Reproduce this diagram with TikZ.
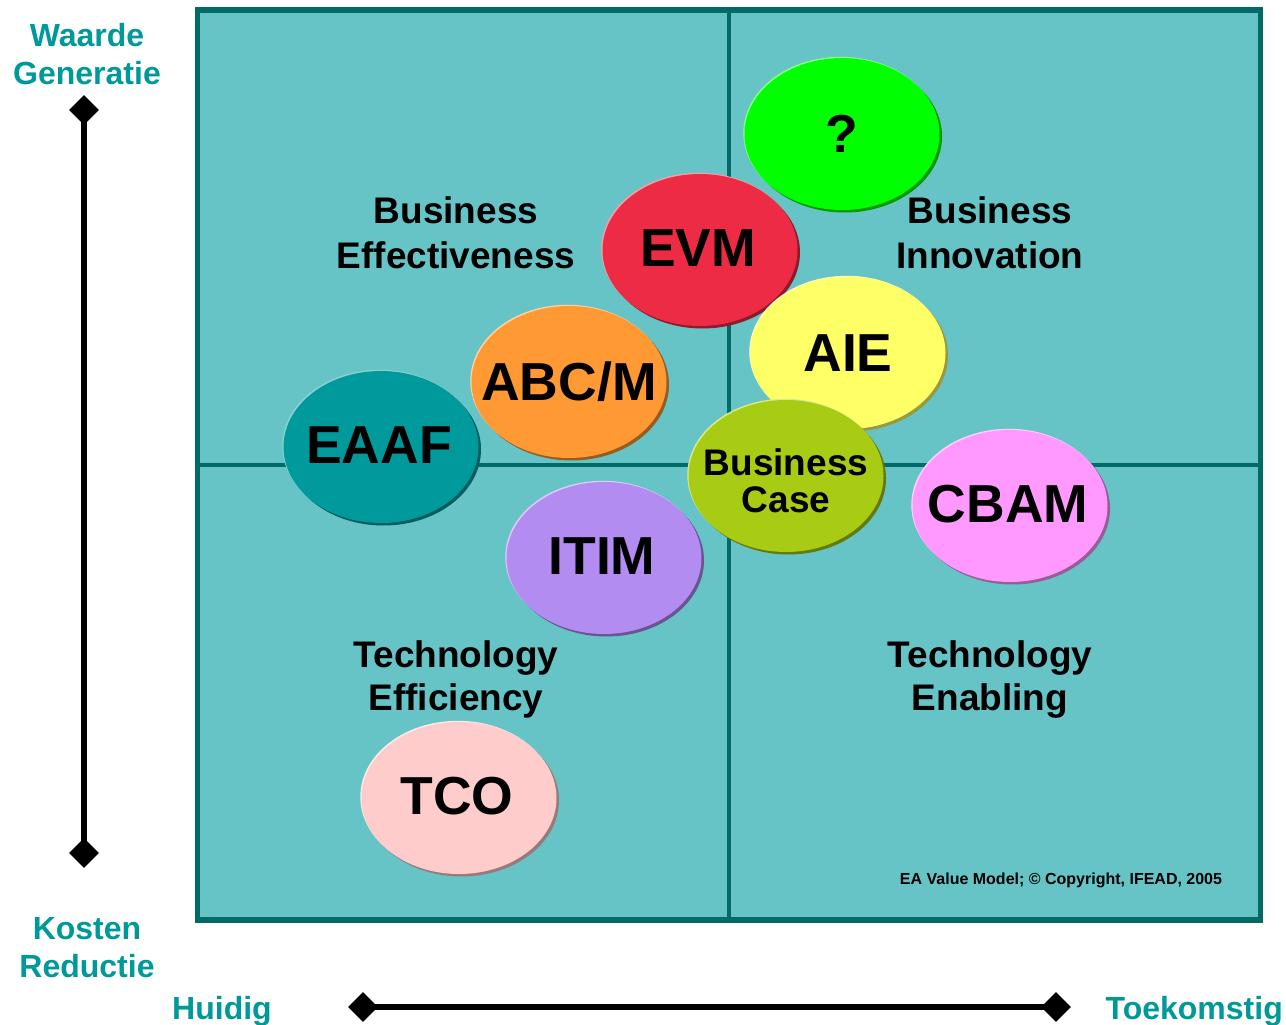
\documentclass[tikz,border=0pt]{standalone}
\usepackage{fontspec}
\setmainfont{Liberation Sans}
\usetikzlibrary{shapes.geometric}
\definecolor{panel}{HTML}{66C4C6}
\definecolor{rim}{HTML}{006B66}
\definecolor{axislabel}{HTML}{009999}
\definecolor{cGreen}{HTML}{00FF00}
\definecolor{cRed}{HTML}{EE2B45}
\definecolor{cYellow}{HTML}{FFFF66}
\definecolor{cOrange}{HTML}{FF9933}
\definecolor{cTeal}{HTML}{009A9C}
\definecolor{cLime}{HTML}{A8CC14}
\definecolor{cPink}{HTML}{FF99FF}
\definecolor{cPurple}{HTML}{B38CF2}
\definecolor{cRose}{HTML}{FFCCCC}
\begin{document}
\begin{tikzpicture}[x=1pt,y=-1pt,
  bubble/.style={ellipse, minimum width=195pt, minimum height=152pt, inner sep=0pt, fill=#1,
    preaction={fill=#1!60!black, transform canvas={shift={(2.5pt,-2.5pt)}}},
    preaction={fill=#1!45!white, transform canvas={shift={(-1.2pt,1.2pt)}}}},
  bubtext/.style={inner sep=0pt, font=\fontsize{53.5}{56}\selectfont\bfseries, text=black},
  smalltext/.style={inner sep=0pt, font=\fontsize{37}{37.5}\selectfont\bfseries, text=black, align=center},
  quadtext/.style={inner sep=0pt, anchor=base, font=\fontsize{37}{45}\selectfont\bfseries, text=black},
  axtext/.style={inner sep=0pt, font=\fontsize{32}{38}\selectfont\bfseries, text=axislabel},
  tip/.style={diamond, fill=black, minimum size=30pt, inner sep=0pt},
  axisline/.style={line width=6pt, black}
]
\useasboundingbox (0,0) rectangle (1286,1025);
\clip (0,0) rectangle (1286,1025);

% panel
\fill[panel] (197.5,10) rectangle (1260.5,920);
\draw[rim, line width=4pt] (729,10) -- (729,920);
\draw[rim, line width=4pt] (197.5,465) -- (1260.5,465);
\draw[rim, line width=5.5pt] (197.5,10) rectangle (1260.5,920);

% quadrant labels
\node[quadtext] (be1) at (456,223) {Business};
\node[quadtext] (be2) at (456,268) {Effectiveness};
\node[quadtext] (bi1) at (990,223) {Business};
\node[quadtext] (bi2) at (990,268) {Innovation};
\node[quadtext] (te1) at (456,667) {Technology};
\node[quadtext] (te2) at (456,710) {Efficiency};
\node[quadtext] (tn1) at (990,667) {Technology};
\node[quadtext] (tn2) at (990,710) {Enabling};

% bubbles
\node[bubble=cGreen] (q) at (842,134) {};
\node[bubtext] (qt) at (q.center) {?};
\node[bubble=cRed] (evm) at (700,250) {};
\node[bubtext] (evmt) at (698,248) {EVM};
\node[bubble=cYellow] (aie) at (848,353) {};
\node[bubtext] (aiet) at (aie.center) {AIE};
\node[bubble=cOrange] (abc) at (569,382) {};
\node[bubtext] (abct) at (abc.center) {ABC/M};
\node[bubble=cTeal] (eaaf) at (381,447) {};
\node[bubtext] (eaaft) at (379,445) {EAAF};
\node[bubble=cPurple] (itim) at (604,558) {};
\node[bubtext] (itimt) at (602,556) {ITIM};
\node[bubble=cLime] (bc) at (786,476) {};
\node[smalltext] (bct) at (786,481) {Business\\Case};
\node[bubble=cPink] (cbam) at (1010,506) {};
\node[bubtext] (cbamt) at (1008,504) {CBAM};
\node[bubble=cRose] (tco) at (459,798) {};
\node[bubtext] (tcot) at (457,796) {TCO};

% copyright
\node[inner sep=0pt, font=\fontsize{16}{18}\selectfont\bfseries] (copy) at (1061,880) {EA Value Model; \textcopyright{} Copyright, IFEAD, 2005};

% vertical axis
\node[tip] (vtop) at (84,110) {};
\node[tip] (vbot) at (84,853) {};
\draw[axisline] (vtop.center) -- (vbot.center);
\node[axtext, align=center] (wg) at (87,54) {Waarde\\Generatie};
\node[axtext, align=center] (kr) at (87,948) {Kosten\\Reductie};

% horizontal axis
\node[tip] (hl) at (363,1007) {};
\node[tip] (hr) at (1056,1007) {};
\draw[axisline] (hl.center) -- (hr.center);
\node[axtext, anchor=base] (hu) at (222,1019) {Huidig};
\node[axtext, anchor=base east] (tk) at (1283,1019) {Toekomstig};
\end{tikzpicture}
\end{document}
